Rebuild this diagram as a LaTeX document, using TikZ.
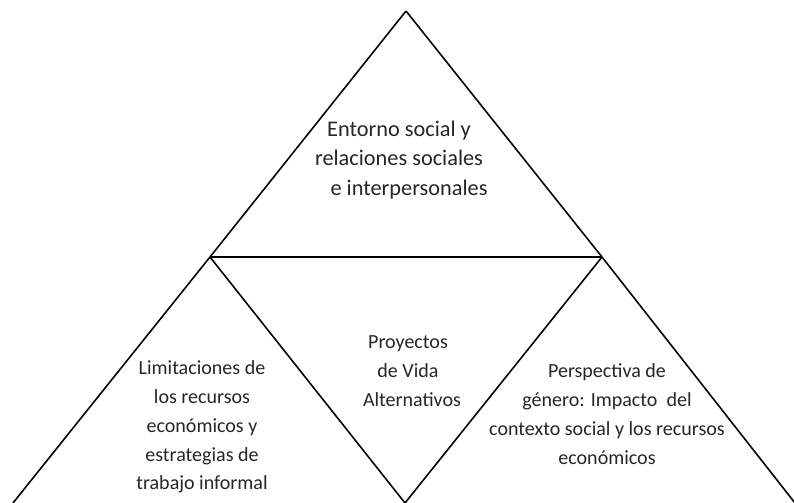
\documentclass[tikz,border=0pt]{standalone}
\usepackage{fontspec}
\setmainfont{Carlito}
\usepackage{tikz}
\usetikzlibrary{positioning, calc}

\begin{document}
\begin{tikzpicture}[
  x=0.02cm, y=-0.02cm,
  every node/.style={font=\fontsize{11.4}{16.4}\selectfont, text=black!85},
  lbl/.style={align=center, inner sep=0pt},
  biglbl/.style={lbl, font=\fontsize{12.7}{16.8}\selectfont},
  edge/.style={draw=black, line width=0.9pt, line join=miter}
]
\useasboundingbox (0,0) rectangle (794,503);

%% corners of the big triangle and midpoints
\coordinate (apex)  at (406,11);
\coordinate (bl)    at (13,503);
\coordinate (br)    at (795,503);
\coordinate (ml)    at (210,257);
\coordinate (mr)    at (602,257);
\coordinate (mb)    at (405,503);

\foreach \a/\b in {apex/ml,ml/bl,apex/mr,mr/br,ml/mr,ml/mb,mr/mb}
  \draw[edge] (\a)--(\b);

%% texts
\node[biglbl] (top) at (399,160) {Entorno social y\\relaciones sociales\\\hspace*{0.9em}e interpersonales};
\node[lbl] (mid)   at (408,371) {Proyectos\\de Vida\\\hspace*{0.4em}Alternativos};
\node[lbl] (left)  at (202,427) {Limitaciones de\\los recursos\\econ\'omicos y\\estrategias de\\trabajo informal};
\node[lbl] (right) at (607,414) {Perspectiva de\\g\'enero: Impacto\ \ del\\contexto social y los recursos\\econ\'omicos};
\end{tikzpicture}
\end{document}
